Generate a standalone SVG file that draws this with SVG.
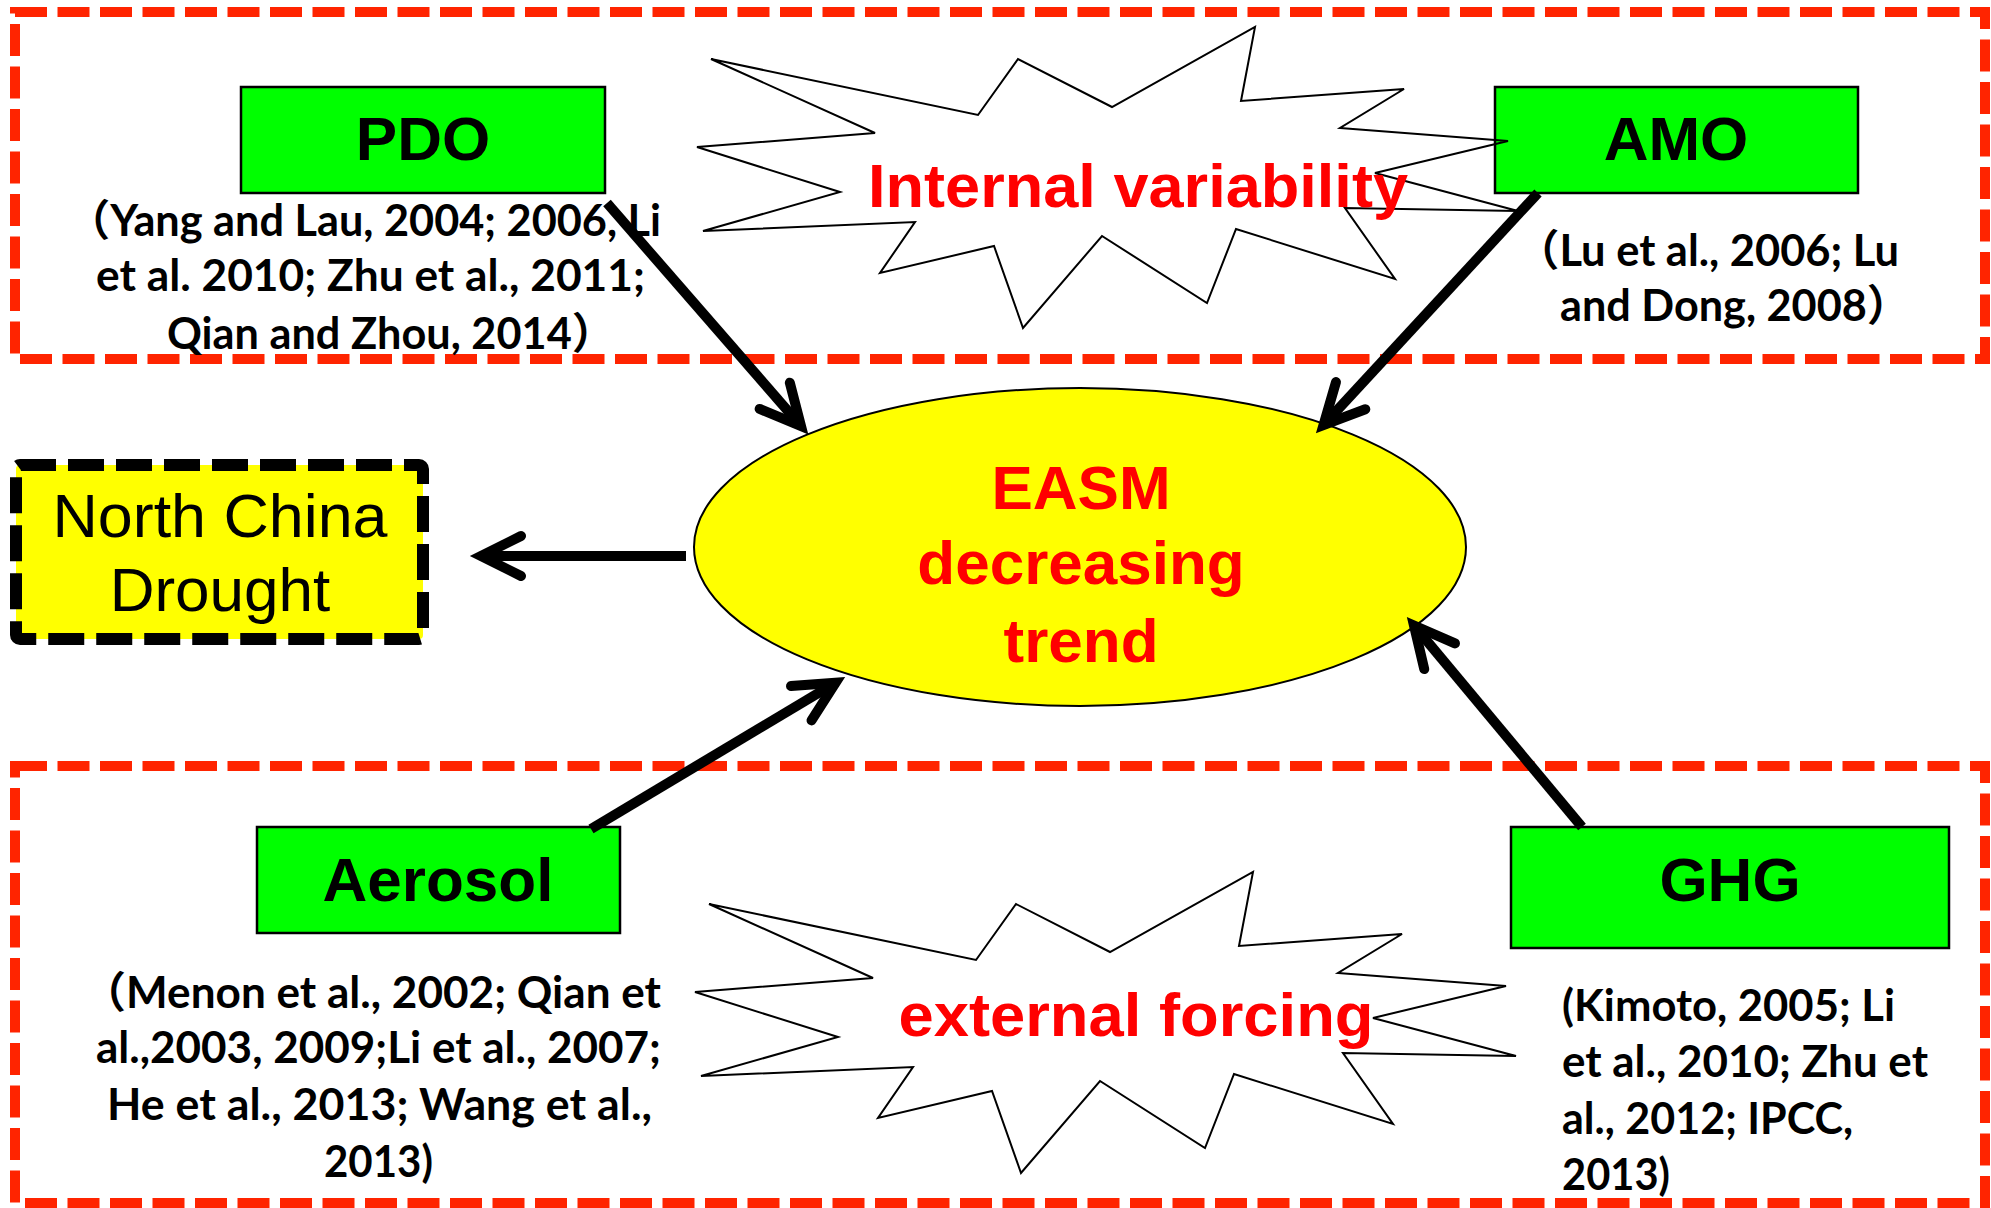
<svg xmlns="http://www.w3.org/2000/svg" xmlns:xlink="http://www.w3.org/1999/xlink" width="1991" height="1208" viewBox="0 0 1991 1208">
<style>
.frame{fill:none;stroke:#FF2400;stroke-width:10;stroke-dasharray:32 10.5}
.box{fill:#00FF00;stroke:#000;stroke-width:2.5}
.lbl{font-family:"Liberation Sans",Arial,sans-serif;font-weight:bold;font-size:62px;text-anchor:middle}
.cite{font-family:Lato,"Noto Sans CJK SC",sans-serif;font-weight:bold;font-size:43px;fill:#000}
.red{fill:#FF0000}
.conn{stroke:#000;stroke-width:10;fill:none;marker-end:url(#ah)}
</style>
<defs>
<marker id="ah" markerUnits="userSpaceOnUse" orient="auto" overflow="visible" markerWidth="1" markerHeight="1" refX="0" refY="0">
<path d="M-40,-20 L0,0 L-40,20" fill="none" stroke="#000" stroke-width="10" stroke-linecap="round" stroke-linejoin="miter"/>
</marker>
<polygon id="starShape" fill="none" stroke="#000" stroke-width="2" points="711,59 978,115 1018,59 1112,107 1255,27 1241,101 1404,89 1340,128 1508,141 1375,173 1518,211 1345,208 1395,279 1236,229 1207,303 1102,236 1023,328 994,246 880,273 915,222 703,231 840,192 697,147 875,133"/>
</defs>

<g id="frames">
<rect class="frame" x="15" y="12" width="1970" height="347"/>
<rect class="frame" x="15" y="766" width="1970" height="437"/>
</g>

<g id="node-pdo">
<rect class="box" x="241" y="87" width="364" height="106"/>
<text class="lbl" x="423" y="160">PDO</text>
<text class="cite" x="67" y="236" textLength="594" lengthAdjust="spacingAndGlyphs">（Yang and Lau, 2004; 2006, Li</text>
<text class="cite" x="96" y="291" textLength="549" lengthAdjust="spacingAndGlyphs">et al. 2010; Zhu et al., 2011;</text>
<text class="cite" x="167" y="349" textLength="448" lengthAdjust="spacingAndGlyphs">Qian and Zhou, 2014）</text>
</g>

<g id="node-amo">
<rect class="box" x="1495" y="87" width="363" height="106"/>
<text class="lbl" x="1676" y="160">AMO</text>
<text class="cite" x="1516" y="266" textLength="383" lengthAdjust="spacingAndGlyphs">（Lu et al., 2006; Lu</text>
<text class="cite" x="1560" y="321" textLength="350" lengthAdjust="spacingAndGlyphs">and Dong, 2008）</text>
</g>

<g id="node-aerosol">
<rect class="box" x="257" y="827" width="363" height="106"/>
<text class="lbl" x="438" y="901">Aerosol</text>
<text class="cite" x="82" y="1008" textLength="579" lengthAdjust="spacingAndGlyphs">（Menon et al., 2002; Qian et</text>
<text class="cite" x="96" y="1063" textLength="565" lengthAdjust="spacingAndGlyphs">al.,2003, 2009;Li et al., 2007;</text>
<text class="cite" x="107" y="1120" textLength="545" lengthAdjust="spacingAndGlyphs">He et al., 2013; Wang et al.,</text>
<text class="cite" x="324" y="1177" textLength="109" lengthAdjust="spacingAndGlyphs">2013)</text>
</g>

<g id="node-ghg">
<rect class="box" x="1511" y="827" width="438" height="121"/>
<text class="lbl" x="1730" y="901">GHG</text>
<text class="cite" x="1562" y="1021" textLength="333" lengthAdjust="spacingAndGlyphs">(Kimoto, 2005; Li</text>
<text class="cite" x="1562" y="1077" textLength="366" lengthAdjust="spacingAndGlyphs">et al., 2010; Zhu et</text>
<text class="cite" x="1562" y="1134" textLength="291" lengthAdjust="spacingAndGlyphs">al., 2012; IPCC,</text>
<text class="cite" x="1562" y="1190" textLength="108" lengthAdjust="spacingAndGlyphs">2013)</text>
</g>

<g id="node-ncd">
<rect x="16" y="465" width="407" height="174" rx="4" fill="#FFFF00" stroke="#000" stroke-width="12" stroke-dasharray="36 12"/>
<text x="220" y="537" font-family="'Liberation Sans', Arial, sans-serif" font-size="62" text-anchor="middle" textLength="335" lengthAdjust="spacingAndGlyphs">North China</text>
<text x="220" y="611" font-family="'Liberation Sans', Arial, sans-serif" font-size="62" text-anchor="middle">Drought</text>
</g>

<g id="node-internal">
<use xlink:href="#starShape"/>
<text class="lbl red" x="1138" y="207" font-size="63" textLength="540" lengthAdjust="spacingAndGlyphs">Internal variability</text>
</g>

<g id="node-external">
<use xlink:href="#starShape" transform="translate(-2,845)"/>
<text class="lbl red" x="1136" y="1036" font-size="63" textLength="475" lengthAdjust="spacingAndGlyphs">external forcing</text>
</g>

<g id="node-easm">
<ellipse cx="1080" cy="547" rx="386" ry="159" fill="#FFFF00" stroke="#000" stroke-width="2"/>
<text class="lbl red" x="1081" y="509">EASM</text>
<text class="lbl red" x="1081" y="584">decreasing</text>
<text class="lbl red" x="1081" y="662">trend</text>
</g>

<g id="connectors">
<path class="conn" d="M607,203 L801,426"/>
<path class="conn" d="M1538,193 L1323.5,425"/>
<path class="conn" d="M591,829 L835.6,682.7"/>
<path class="conn" d="M1582,827 L1414,625.5"/>
<path class="conn" d="M686,556 L481,556"/>
</g>
</svg>
